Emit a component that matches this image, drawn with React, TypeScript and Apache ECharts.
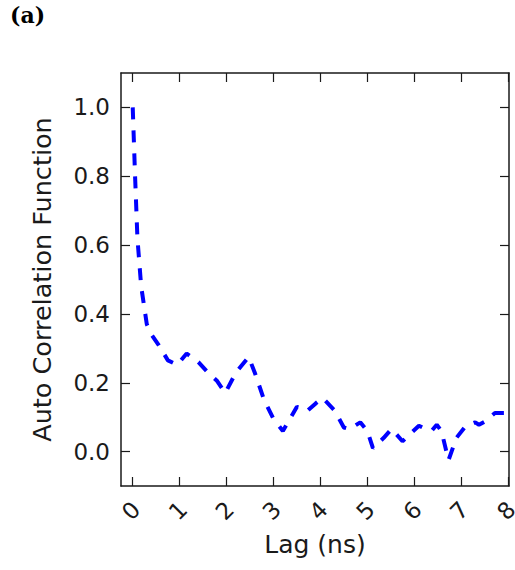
import React, { useEffect, useRef } from "react";
import * as echarts from "echarts";

// Autocorrelation of the signal versus lag time
const lagNs = [
  0, 0.05, 0.1, 0.18, 0.3, 0.4, 0.55, 0.75, 0.95, 1.15, 1.4, 1.6, 1.8, 1.97,
  2.2, 2.47, 2.6, 2.8, 3.0, 3.2, 3.5, 3.72, 3.9, 4.05, 4.3, 4.5, 4.62, 4.85,
  5.0, 5.12, 5.35, 5.52, 5.75, 6.1, 6.3, 6.38, 6.48, 6.58, 6.73, 6.9, 7.1,
  7.3, 7.38, 7.5, 7.72, 8.0,
];
const acf = [
  1.0, 0.8, 0.62, 0.48, 0.37, 0.34, 0.31, 0.265, 0.252, 0.285, 0.26, 0.23,
  0.205, 0.17, 0.23, 0.275, 0.23, 0.15, 0.095, 0.06, 0.13, 0.118, 0.14, 0.156,
  0.12, 0.07, 0.065, 0.085, 0.06, 0.01, 0.04, 0.066, 0.03, 0.075, 0.062, 0.062,
  0.078, 0.06, -0.025, 0.04, 0.075, 0.085, 0.078, 0.087, 0.112, 0.112,
];

const xTicks = [0, 1, 2, 3, 4, 5, 6, 7, 8];
const yTicks = [0, 0.2, 0.4, 0.6, 0.8, 1.0];

const FONT = "DejaVu Sans";
const FRAME = { show: true, onZero: false, lineStyle: { color: "#1a1a1a", width: 1.5 } };
const TICK = { show: true, inside: true, length: 9, lineStyle: { color: "#1a1a1a", width: 1.2 } };

export default function App() {
  const ref = useRef<HTMLDivElement>(null);

  useEffect(() => {
    if (!ref.current) return;
    const chart = echarts.init(ref.current, null, { renderer: "svg" });

    const xBase = {
      type: "value" as const,
      min: -0.25,
      max: 8.02,
      splitLine: { show: false },
      axisLine: FRAME,
    };
    const yBase = {
      type: "value" as const,
      min: -0.1,
      max: 1.1,
      splitLine: { show: false },
      axisLine: FRAME,
    };

    chart.setOption({
      animation: false,
      backgroundColor: "#ffffff",
      grid: {
        left: 121,
        top: 73,
        width: 388,
        height: 413,
        containLabel: false,
        outerBoundsMode: "none",
      },
      graphic: [
        {
          type: "text",
          left: 10,
          top: 4,
          style: {
            text: "(a)",
            font: "bold 22px 'DejaVu Serif'",
            fill: "#000",
          },
        },
      ],
      xAxis: [
        {
          ...xBase,
          position: "bottom",
          name: "Lag (ns)",
          nameLocation: "middle",
          nameGap: 46,
          nameTextStyle: { fontFamily: FONT, fontSize: 25, color: "#1a1a1a" },
          axisTick: { ...TICK, customValues: xTicks },
          axisLabel: {
            customValues: xTicks,
            rotate: 45,
            align: "center",
            verticalAlign: "middle",
            margin: 23,
            padding: [0, 5, 5, 0],
            lineHeight: 15,
            fontFamily: FONT,
            fontSize: 23,
            color: "#1a1a1a",
            showMinLabel: true,
            showMaxLabel: true,
            hideOverlap: false,
            formatter: (v: number) => String(v),
          },
        },
        {
          ...xBase,
          position: "top",
          axisTick: { ...TICK, customValues: xTicks },
          axisLabel: { show: false },
        },
      ],
      yAxis: [
        {
          ...yBase,
          position: "left",
          name: "Auto Correlation Function",
          nameLocation: "middle",
          nameGap: 66,
          nameTextStyle: { fontFamily: FONT, fontSize: 25.5, color: "#1a1a1a" },
          axisTick: { ...TICK, customValues: yTicks },
          axisLabel: {
            customValues: yTicks,
            margin: 11,
            fontFamily: FONT,
            fontSize: 23,
            color: "#1a1a1a",
            showMinLabel: true,
            showMaxLabel: true,
            formatter: (v: number) => v.toFixed(1),
          },
        },
        {
          ...yBase,
          position: "right",
          axisTick: { ...TICK, customValues: yTicks },
          axisLabel: { show: false },
        },
      ],
      series: [
        {
          type: "line",
          xAxisIndex: 0,
          yAxisIndex: 0,
          data: lagNs.map((x, i) => [x, acf[i]]),
          showSymbol: false,
          symbol: "none",
          lineStyle: { color: "#0000ff", width: 4, type: [12, 11], cap: "butt" },
        },
      ],
    });

    return () => chart.dispose();
  }, []);

  return (
    <div
      ref={ref}
      style={{ position: "absolute", left: 0, top: 0, width: 515, height: 570, background: "#fff" }}
    />
  );
}
